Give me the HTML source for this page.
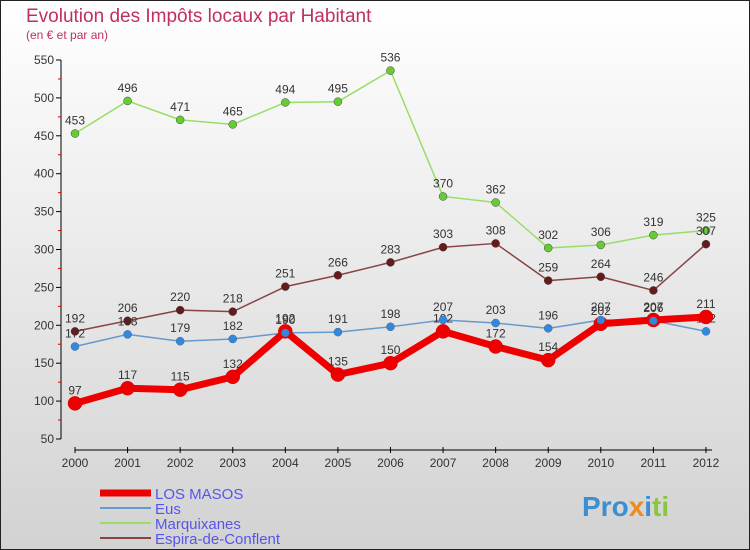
<!DOCTYPE html>
<html><head><meta charset="utf-8"><style>
body{margin:0;}
#c{width:750px;height:550px;position:relative;overflow:hidden;font-family:"Liberation Sans",sans-serif;}
</style></head><body>
<div id="c">
<svg id="s" width="750" height="550" xmlns="http://www.w3.org/2000/svg">
<defs><linearGradient id="bg" x1="0" y1="0" x2="0" y2="1"><stop offset="0" stop-color="#ffffff"/><stop offset="1" stop-color="#d2d2d2"/></linearGradient></defs>
<rect x="0.5" y="0.5" width="749" height="549" fill="url(#bg)" stroke="#222"/>
<text x="26" y="22" font-size="19" fill="#c0305a">Evolution des Impôts locaux par Habitant</text>
<text x="26" y="39" font-size="12" fill="#c0305a">(en € et par an)</text>
<g id="axes"></g><g id="series"></g><g id="legend"></g>
<text x="582" y="516" font-size="28" font-weight="bold" fill="#3a8fd0">Pro<tspan fill="#f08a1c">x</tspan><tspan fill="#3a8fd0">i</tspan><tspan fill="#8cc63f">ti</tspan></text>
</svg></div>
<script>
const years=["2000","2001","2002","2003","2004","2005","2006","2007","2008","2009","2010","2011","2012"];
const yTicks=[50,100,150,200,250,300,350,400,450,500,550];
const losMasos=[97,117,115,132,192,135,150,192,172,154,202,207,211];
const eus=[172,188,179,182,190,191,198,207,203,196,207,206,192];
const marquixanes=[453,496,471,465,494,495,536,370,362,302,306,319,325];
const espira=[192,206,220,218,251,266,283,303,308,259,264,246,307];
const NS="http://www.w3.org/2000/svg";
function X(i){return 75+i*52.58;}
function Y(v){return 439-(v-50)*0.758;}
function mk(t,a,p){const e=document.createElementNS(NS,t);for(const k in a)e.setAttribute(k,a[k]);p.appendChild(e);return e;}
const ax=document.getElementById('axes');
let l=mk('line',{x1:61,y1:Y(550),x2:61,y2:Y(50),stroke:'#000'},ax);

yTicks.forEach((v,i)=>{mk('line',{x1:56,y1:Y(v),x2:61,y2:Y(v),stroke:'#000'},ax);
 if(i<yTicks.length-1)mk('line',{x1:58,y1:Y(v+25),x2:61,y2:Y(v+25),stroke:'#d00'},ax);
 const t=mk('text',{x:54,y:Y(v)+4,'text-anchor':'end','font-size':12,fill:'#333'},ax);t.textContent=v;
 });
l=mk('line',{x1:75,y1:450,x2:712,y2:450,stroke:'#000'},ax);

years.forEach((y,i)=>{mk('line',{x1:X(i),y1:447,x2:X(i),y2:453,stroke:'#000'},ax);
 const t=mk('text',{x:X(i),y:467,'text-anchor':'middle','font-size':12,fill:'#333'},ax);t.textContent=y;
 });
const sg=document.getElementById('series');
const defs=[["marquixanes",marquixanes,"#99dd66","#66cc33",1.5,4],["espira-de-conflent",espira,"#884444","#661a1a",1.5,4],["eus",eus,"#6699cc","#3388dd",1.5,4],["los-masos",losMasos,"#ee0000","#ee0000",7,7]];
defs.forEach(d=>{const g=mk('g',{},sg);
 const pts=d[1].map((v,i)=>X(i)+','+Y(v)).join(' ');
 const pl=mk('polyline',{points:pts,fill:'none',stroke:d[2],'stroke-width':d[4],'stroke-linejoin':'round'},g);
 
 d[1].forEach((v,i)=>{const c=mk('circle',{cx:X(i),cy:Y(v),r:d[5],fill:d[3],stroke:d[0]=='los-masos'?'#cc0000':'#444','stroke-width':0.5},g);
  
  const t=mk('text',{x:X(i),y:Y(v)-9,'text-anchor':'middle','font-size':12,fill:'#333'},g);t.textContent=v;
  });
 if(d[0]=='los-masos'){eus.forEach((v,i)=>{const c=mk('circle',{cx:X(i),cy:Y(v),r:4,fill:'#3388dd'},g);});}
});
const lg=document.getElementById('legend');
const names=[["LOS MASOS","#ee0000",7],["Eus","#6699cc",2],["Marquixanes","#99dd66",2],["Espira-de-Conflent","#884444",2]];
names.forEach((n,i)=>{const y=493+i*15;
 const r=mk('line',{x1:100,y1:y,x2:151,y2:y,stroke:n[1],'stroke-width':n[2]},lg);
 
 const t=mk('text',{x:155,y:y+6,'font-size':15,fill:'#5555ee'},lg);t.textContent=n[0];
 });
</script></body></html>
